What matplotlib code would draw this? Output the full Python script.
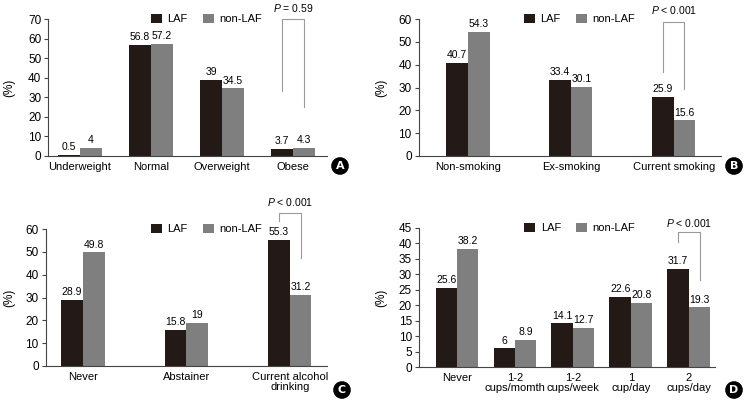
import matplotlib
matplotlib.use("Agg")
import matplotlib.pyplot as plt
import numpy as np

plt.rcParams['font.family'] = ['Liberation Sans', 'DejaVu Sans']
plt.rcParams['font.size'] = 8
plt.rcParams['mathtext.fontset'] = 'custom'
plt.rcParams['mathtext.rm'] = 'Liberation Sans'
plt.rcParams['mathtext.it'] = 'Liberation Sans:italic'

# data
bmi_cats = ['Underweight', 'Normal', 'Overweight', 'Obese']
bmi_laf = [0.5, 56.8, 39, 3.7]
bmi_non = [4, 57.2, 34.5, 4.3]

smk_cats = ['Non-smoking', 'Ex-smoking', 'Current smoking']
smk_laf = [40.7, 33.4, 25.9]
smk_non = [54.3, 30.1, 15.6]

alc_cats = ['Never', 'Abstainer', 'Current alcohol\ndrinking']
alc_laf = [28.9, 15.8, 55.3]
alc_non = [49.8, 19, 31.2]

cof_cats = ['Never', '1-2\ncups/momth', '1-2\ncups/week', '1\ncup/day', '2\ncups/day']
cof_laf = [25.6, 6, 14.1, 22.6, 31.7]
cof_non = [38.2, 8.9, 12.7, 20.8, 19.3]

LAF_COLOR = '#231916'
NON_COLOR = '#7f7f7f'
W, H = 745, 401

fig = plt.figure(figsize=(W / 100, H / 100), dpi=100)


def px_axes(x0, x1, ytop, ybot):
    return fig.add_axes([x0 / W, 1 - ybot / H, (x1 - x0) / W, (ybot - ytop) / H])


def panel(ax, cats, laf, non, width, xlim, ymax, ystep, ylab_x, leg_x,
          bracket, ptext, pty, letter, letter_xy):
    x = np.arange(len(cats))
    b1 = ax.bar(x - width / 2, laf, width, color=LAF_COLOR, label='LAF')
    b2 = ax.bar(x + width / 2, non, width, color=NON_COLOR, label='non-LAF')
    ax.bar_label(b1, labels=[f'{v:g}' for v in laf], padding=2, fontsize=7.5)
    ax.bar_label(b2, labels=[f'{v:g}' for v in non], padding=2, fontsize=7.5)
    ax.set_xlim(*xlim)
    ax.set_ylim(0, ymax)
    ax.set_yticks(np.arange(0, ymax + 0.1, ystep))
    ax.set_xticks(x)
    ax.set_xticklabels(cats, linespacing=1.1)
    ax.tick_params(axis='x', length=0, pad=4, labelsize=8)
    ax.tick_params(axis='y', length=3, width=0.8, pad=2, labelsize=8.5, color='#444444')
    for s in ['top', 'right']:
        ax.spines[s].set_visible(False)
    for s in ['left', 'bottom']:
        ax.spines[s].set_color('#444444')
        ax.spines[s].set_linewidth(0.8)
    ax.set_ylabel('(%)', fontsize=8.5)
    ax.yaxis.set_label_coords(ylab_x, 0.5)
    ax.legend(loc='center left', bbox_to_anchor=(leg_x, 1.0), ncol=2, frameon=False,
              borderpad=0, borderaxespad=0, handlelength=1.0, handleheight=0.9,
              handletextpad=0.5, columnspacing=1.35, fontsize=8)
    # significance bracket
    i = len(cats) - 1
    xl, xr = i - width / 2, i + width / 2
    top, yl, yr = bracket
    ax.plot([xl, xl, xr, xr], [yl, top, top, yr], color='#9a9a9a', lw=0.8, clip_on=False)
    ax.text((xl + xr) / 2, pty, ptext, ha='center', va='center', fontsize=7.5)
    fig.text(letter_xy[0] / W, 1 - letter_xy[1] / H, letter, color='white',
             fontweight='bold', fontsize=8, ha='center', va='center',
             family='DejaVu Sans',
             bbox=dict(boxstyle='circle,pad=0.28', fc='black', ec='black'))


axA = px_axes(48.3, 327, 19, 156)
panel(axA, bmi_cats, bmi_laf, bmi_non, 0.305, (-0.446, 3.48), 70, 10, -0.119, 0.368,
      (70, 33, 25), r'$P$ = 0.59', 75.6, 'A', (340, 166))

axB = px_axes(418.7, 721, 19, 156)
panel(axB, smk_cats, smk_laf, smk_non, 0.21, (-0.48, 2.46), 60, 10, -0.105, 0.348,
      (58.7, 37, 29.3), r'$P$ < 0.001', 64, 'B', (734, 166))

axC = px_axes(45.7, 327, 229, 366)
panel(axC, alc_cats, alc_laf, alc_non, 0.21, (-0.36, 2.36), 60, 10, -0.109, 0.374,
      (67, 63.5, 47.3), r'$P$ < 0.001', 71.8, 'C', (342, 390))

axD = px_axes(419, 715, 228, 367)
panel(axD, cof_cats, cof_laf, cof_non, 0.37, (-0.655, 4.45), 45, 5, -0.108, 0.355,
      (43.7, 40.5, 28.2), r'$P$ < 0.001', 46.6, 'D', (734, 390))

fig.savefig('out.png', dpi=100)
